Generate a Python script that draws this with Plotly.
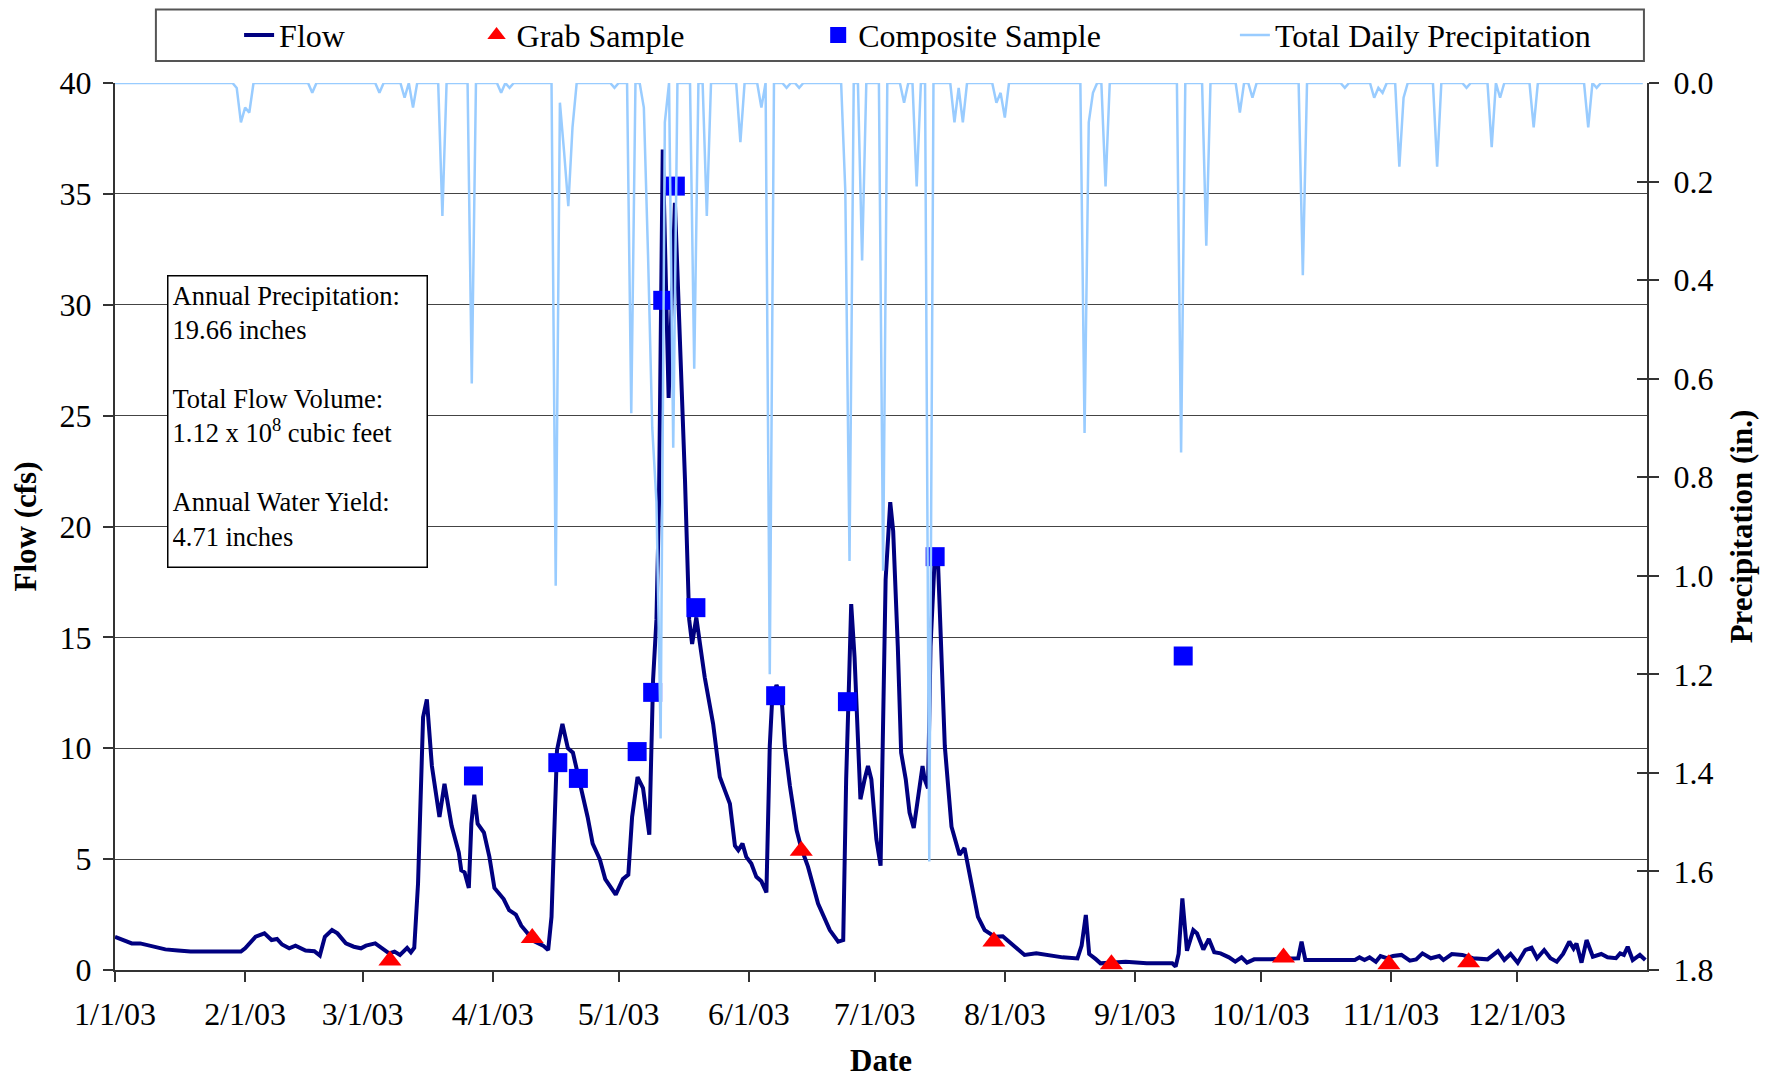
import pandas as pd
import plotly.graph_objects as go

# Values. Days are counted from 1/1/03 (day 0).
flow_day = [
    0, 2, 4, 6, 9, 12, 15, 18, 24, 30, 31, 33.5, 35.6, 37.3, 38.6, 39.8, 41.5, 43,
    45.4, 47.5, 48.8, 50, 51.7, 53, 55, 56.9, 58.6, 59.8, 62, 63.6, 65.3, 66.6,
    67.9, 69.6, 70.5, 71.3, 72.2, 73.4, 74.3, 75.5, 77.3, 78.5, 80.2, 81.9, 82.5,
    83.3, 84.3, 84.9, 85.6, 86.4, 87.9, 89.2, 90.4, 92.6, 93.9, 95.5, 96.8, 98.1,
    99.8, 102, 103.2, 104, 104.9, 105.3, 106.6, 107.9, 109.1, 110.9, 112.6, 113.8,
    115.5, 116.8, 119.3, 121, 122.3, 123.2, 124.5, 125.8, 127.3, 128.2, 129, 129.6,
    130.2, 130.5, 131.9, 133.4, 135.8, 136.8, 137.5, 138.5, 139.3, 140.5, 142.5,
    144.1, 145.3, 146.5, 147.7, 148.5, 149.5, 150.4, 151.6, 152.8, 154, 155.2, 156,
    156.6, 157.6, 158.8, 159.6, 160.8, 162.4, 163.5, 165.1, 167.5, 170.3, 172.3,
    173.5, 174.2, 174.9, 175.4, 176.2, 177, 177.6, 178.6, 179.4, 180.2, 181.4,
    182.4, 183, 183.6, 184.7, 185.4, 186.5, 187.3, 188.4, 189.3, 190.3, 191.3,
    192.4, 192.9, 193.7, 194.3, 195.3, 196.1, 196.9, 197.7, 199.3, 201.2, 202.4,
    203.6, 205.6, 207.2, 209.6, 211.5, 213.9, 216.7, 219.5, 222.3, 225.8, 229.3,
    230.3, 231.3, 232.1, 233.6, 234.8, 240.8, 245.8, 251.9, 252.7, 253.4, 254.3,
    255.4, 256.9, 257.8, 259.3, 260.6, 261.9, 263.4, 265.4, 266.9, 268.4, 269.7,
    271.4, 274.9, 277.4, 281.9, 282.7, 283.6, 286.9, 291.9, 295.4, 296.5, 297.7,
    298.9, 300.4, 301.5, 303, 304.5, 306.5, 308.5, 310, 311.5, 313.5, 315.5, 316.5,
    318.5, 321, 323.5, 327, 329.5, 331, 332.5, 334.2, 336, 337.5, 338.8, 340.5,
    342, 343.5, 345, 346.5, 347.5, 348.2, 349.4, 350.6, 352.1, 354.1, 355.6, 357.6,
    358.6, 359.5, 360.4, 361.6, 363.3, 364.6,
]
flow_cfs = [
    1.5, 1.35, 1.2, 1.2, 1.08, 0.93, 0.88, 0.83, 0.83, 0.83, 0.98, 1.5, 1.65, 1.35,
    1.4, 1.15, 0.98, 1.1, 0.88, 0.85, 0.65, 1.5, 1.8, 1.65, 1.2, 1.05, 0.98, 1.1,
    1.2, 1.0, 0.75, 0.83, 0.68, 1.0, 0.8, 1.0, 3.9, 11.4, 12.2, 9.2, 6.9, 8.4, 6.5,
    5.3, 4.5, 4.4, 3.7, 6.6, 7.9, 6.6, 6.2, 5.1, 3.7, 3.2, 2.7, 2.5, 2.0, 1.7, 1.3,
    1.1, 0.9, 2.4, 6.9, 9.9, 11.1, 10.0, 9.8, 8.4, 6.9, 5.7, 5.0, 4.1, 3.4, 4.1,
    4.3, 6.9, 8.7, 8.2, 6.1, 13.1, 15.8, 21.0, 30.0, 37.0, 25.8, 34.6, 22.1, 15.8,
    14.7, 15.9, 14.8, 13.2, 11.1, 8.7, 8.1, 7.5, 5.6, 5.4, 5.7, 5.1, 4.8, 4.2, 4.0,
    3.5, 10.1, 12.3, 12.85, 12.3, 10.1, 8.3, 6.3, 5.5, 4.66, 3.0, 1.8, 1.28, 1.35,
    8.6, 13.1, 16.5, 14.1, 10.1, 7.7, 8.6, 9.2, 8.6, 5.9, 4.7, 10.1, 17.6, 21.1,
    19.8, 14.6, 9.8, 8.6, 7.1, 6.4, 7.8, 9.2, 8.6, 8.2, 14.6, 18.6, 18.3, 14.6,
    10.1, 6.46, 5.19, 5.5, 4.36, 2.4, 1.8, 1.5, 1.52, 1.13, 0.68, 0.75, 0.65, 0.57,
    0.52, 1.1, 2.48, 0.72, 0.5, 0.3, 0.37, 0.3, 0.3, 0.15, 0.72, 3.23, 0.87, 1.8,
    1.65, 0.92, 1.4, 0.8, 0.75, 0.57, 0.38, 0.57, 0.33, 0.48, 0.48, 0.5, 0.53, 1.28,
    0.45, 0.45, 0.45, 0.45, 0.57, 0.45, 0.57, 0.37, 0.63, 0.53, 0.63, 0.68, 0.42,
    0.48, 0.75, 0.53, 0.63, 0.45, 0.72, 0.68, 0.53, 0.48, 0.85, 0.45, 0.72, 0.33,
    0.9, 1.0, 0.53, 0.9, 0.53, 0.37, 0.72, 1.28, 0.97, 1.2, 0.33, 1.35, 0.6, 0.72,
    0.57, 0.53, 0.75, 0.68, 1.05, 0.45, 0.68, 0.45,
]

grab_day = [65.5, 99.4, 163.5, 209.4, 237.4, 278.4, 303.5, 322.5]
grab_cfs = [0.43, 1.44, 5.38, 1.28, 0.26, 0.56, 0.26, 0.35]

composite_day = [85.4, 105.5, 110.4, 124.4, 128.1, 130.5, 133.5, 138.4, 157.4,
                 174.5, 195.4, 254.5]
composite_cfs = [8.75, 9.35, 8.64, 9.85, 12.52, 30.2, 35.35, 16.34, 12.37,
                 12.1, 18.64, 14.16]

# days with rain (all other days are 0.0 in.)
rain_day = [29, 30, 31, 32, 47, 63, 69, 71, 78, 85, 92, 94, 105, 106, 107, 108,
            109, 119, 123, 126, 127, 128, 129, 130, 131, 133, 138, 141, 149, 154,
            156, 160, 163, 174, 175, 178, 183, 188, 191, 194, 200, 201, 202, 210,
            211, 212, 231, 232, 233, 236, 254, 260, 268, 271, 283, 293, 300, 301,
            302, 306, 307, 315, 322, 328, 330, 338, 351, 353]
rain_in = [0.01, 0.08, 0.05, 0.06, 0.02, 0.02, 0.03, 0.05, 0.27, 0.61, 0.02,
           0.01, 1.02, 0.04, 0.14, 0.25, 0.09, 0.01, 0.67, 0.05, 0.35, 0.7, 0.85,
           1.33, 0.08, 0.74, 0.58, 0.27, 0.12, 0.05, 1.2, 0.01, 0.01, 0.22, 0.97,
           0.36, 0.99, 0.04, 0.21, 1.58, 0.08, 0.01, 0.08, 0.04, 0.02, 0.07, 0.71,
           0.08, 0.02, 0.21, 0.75, 0.33, 0.06, 0.03, 0.39, 0.01, 0.03, 0.01, 0.02,
           0.17, 0.03, 0.17, 0.01, 0.13, 0.03, 0.09, 0.09, 0.01]

month_ticks = ["2003-01-01", "2003-02-01", "2003-03-01", "2003-04-01",
               "2003-05-01", "2003-06-01", "2003-07-01", "2003-08-01",
               "2003-09-01", "2003-10-01", "2003-11-01", "2003-12-01"]
month_labels = ["1/1/03", "2/1/03", "3/1/03", "4/1/03", "5/1/03", "6/1/03",
                "7/1/03", "8/1/03", "9/1/03", "10/1/03", "11/1/03", "12/1/03"]

summary_text = (
    "Annual Precipitation:<br>19.66 inches<br><br>"
    "Total Flow Volume:<br>1.12 x 10<sup>8</sup> cubic feet<br><br>"
    "Annual Water Yield:<br>4.71 inches"
)

START = pd.Timestamp("2003-01-01")
SERIF = "Liberation Serif, Times New Roman, serif"
AXIS_COLOR = "#333333"
GRID_COLOR = "#444444"


def to_dates(days):
    return [START + pd.to_timedelta(d, unit="D") for d in days]


rain_lookup = dict(zip(rain_day, rain_in))
all_days = list(range(365))
precip_daily = [rain_lookup.get(d, 0.0) for d in all_days]

fig = go.Figure()
fig.add_trace(go.Scatter(
    x=to_dates(flow_day), y=flow_cfs, name="Flow", mode="lines",
    line={"color": "#000080", "width": 4},
    legend="legend",
))
fig.add_trace(go.Scatter(
    x=to_dates(grab_day), y=grab_cfs, name="Grab Sample", mode="markers",
    marker={"symbol": "triangle-up", "size": 20, "color": "#FF0000"},
    cliponaxis=False, legend="legend2",
))
fig.add_trace(go.Scatter(
    x=to_dates(composite_day), y=composite_cfs, name="Composite Sample",
    mode="markers",
    marker={"symbol": "square", "size": 19, "color": "#0000FF"},
    cliponaxis=False, legend="legend3",
))
fig.add_trace(go.Scatter(
    x=to_dates(all_days), y=precip_daily, name="Total Daily Precipitation",
    mode="lines", yaxis="y2",
    line={"color": "#99CCFF", "width": 2.5},
    legend="legend4",
))
# empty trace so the inner-tick copy of the right axis is drawn
fig.add_trace(go.Scatter(x=[], y=[], yaxis="y3", showlegend=False,
                         hoverinfo="skip"))


def legend_at(x):
    return {
        "x": x, "y": 1.054, "xanchor": "left", "yanchor": "middle",
        "orientation": "h", "bgcolor": "rgba(0,0,0,0)",
        "font": {"family": SERIF, "size": 32, "color": "black"},
    }


# page body adds an 8 px offset, so the figure is 8 px smaller than the window
fig.update_layout(
    width=1770, height=1070,
    margin={"l": 107, "r": 131, "t": 75, "b": 108, "autoexpand": False},
    paper_bgcolor="white", plot_bgcolor="white",
    font={"family": SERIF, "size": 32, "color": "black"},
    showlegend=True,
    legend=legend_at(0.081),
    legend2=legend_at(0.236),
    legend3=legend_at(0.459),
    legend4=legend_at(0.731),
    xaxis={
        "type": "date",
        "range": ["2003-01-01", "2004-01-01"],
        "tickvals": month_ticks, "ticktext": month_labels,
        "ticks": "outside", "ticklen": 10, "tickwidth": 1.5,
        "tickcolor": AXIS_COLOR, "ticklabelstandoff": 5,
        "showline": True, "linecolor": AXIS_COLOR, "linewidth": 2,
        "showgrid": False, "zeroline": False,
        "tickfont": {"size": 32},
        "title": {"text": "<b>Date</b>", "font": {"size": 31}, "standoff": 20},
    },
    yaxis={
        "range": [0, 40], "dtick": 5,
        "ticks": "outside", "ticklen": 10, "tickwidth": 1.5,
        "tickcolor": AXIS_COLOR, "ticklabelstandoff": 5,
        "showline": True, "linecolor": AXIS_COLOR, "linewidth": 2,
        "showgrid": True, "gridcolor": GRID_COLOR, "gridwidth": 1,
        "zeroline": False,
        "tickfont": {"size": 32},
        "title": {"text": "<b>Flow (cfs)</b>", "font": {"size": 31},
                  "standoff": 17},
    },
    yaxis2={
        "overlaying": "y", "side": "right", "anchor": "x",
        "range": [1.8, 0], "dtick": 0.2, "tickformat": ".1f",
        "ticks": "outside", "ticklen": 10, "tickwidth": 1.5,
        "tickcolor": AXIS_COLOR, "ticklabelstandoff": 8,
        "showline": True, "linecolor": AXIS_COLOR, "linewidth": 2,
        "showgrid": False, "zeroline": False,
        "tickfont": {"size": 32},
        "title": {"text": "<b>Precipitation (in.)</b>", "font": {"size": 31},
                  "standoff": 18},
    },
    yaxis3={
        "overlaying": "y", "side": "right", "anchor": "x",
        "range": [1.8, 0], "dtick": 0.2,
        "ticks": "inside", "ticklen": 10, "tickwidth": 1.5,
        "tickcolor": AXIS_COLOR, "showticklabels": False,
        "showline": False, "showgrid": False, "zeroline": False,
    },
    annotations=[{
        "text": summary_text, "xref": "paper", "yref": "paper",
        "x": 0.034, "y": 0.7835, "xanchor": "left", "yanchor": "top",
        "align": "left", "valign": "top", "showarrow": False,
        "width": 250, "height": 282, "borderpad": 4,
        "bordercolor": "black", "borderwidth": 1.5, "bgcolor": "white",
        "font": {"family": SERIF, "size": 26.5, "color": "black"},
    }],
    shapes=[{
        "type": "rect", "xref": "paper", "yref": "paper",
        "x0": 0.0267, "x1": 0.998, "y0": 1.0248, "y1": 1.0829,
        "line": {"color": "#555555", "width": 2},
        "fillcolor": "rgba(0,0,0,0)",
    }],
)

fig.write_html("out.html")
